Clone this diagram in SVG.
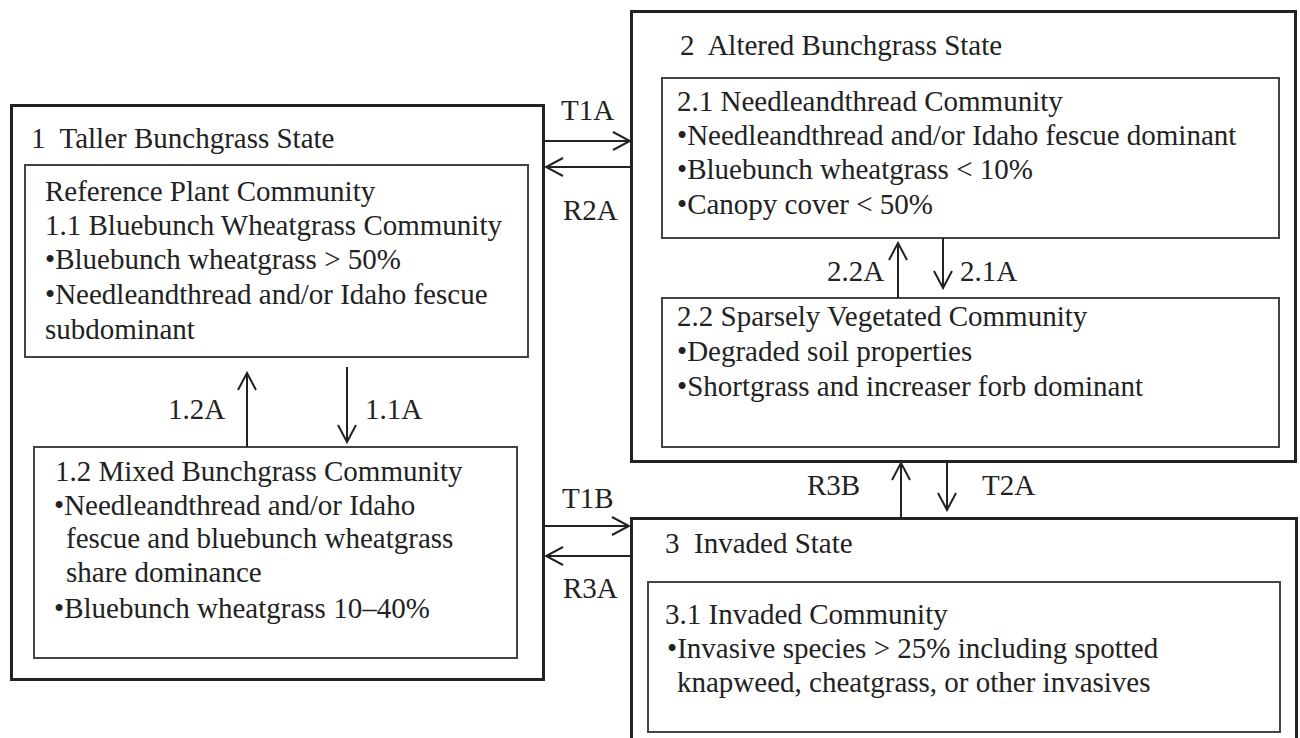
<svg xmlns="http://www.w3.org/2000/svg" width="1300" height="738" viewBox="0 0 1300 738">
<style>
text{font-family:"Liberation Serif","Times New Roman",serif;font-size:29px;fill:#222}
.state{fill:none;stroke:#222;stroke-width:3}
.comm{fill:none;stroke:#444;stroke-width:2}
.conn{stroke:#222;stroke-width:2;fill:none}
</style>
<defs>
<marker id="arr" viewBox="0 0 20 20" refX="18" refY="10" markerWidth="20" markerHeight="20" markerUnits="userSpaceOnUse" orient="auto">
<path d="M1,1 L18,10 L1,19" fill="none" stroke="#222" stroke-width="2"/>
</marker>
</defs>
<rect width="1300" height="738" fill="#fff"/>

<g id="state1">
<rect class="state" x="11.5" y="105.5" width="532" height="574"/>
<text x="31" y="148" xml:space="preserve">1  Taller Bunchgrass State</text>
</g>
<g id="comm1-1">
<rect class="comm" x="25" y="165" width="503" height="192"/>
<text x="45" y="201">Reference Plant Community</text>
<text x="45" y="235">1.1 Bluebunch Wheatgrass Community</text>
<text x="45" y="269">•Bluebunch wheatgrass &gt; 50%</text>
<text x="45" y="304">•Needleandthread and/or Idaho fescue</text>
<text x="45" y="339">subdominant</text>
</g>
<g id="comm1-2">
<rect class="comm" x="34" y="447" width="483" height="211"/>
<text x="55" y="481">1.2 Mixed Bunchgrass Community</text>
<text x="54" y="515">•Needleandthread and/or Idaho</text>
<text x="66" y="548">fescue and bluebunch wheatgrass</text>
<text x="66" y="582">share dominance</text>
<text x="54" y="618">•Bluebunch wheatgrass 10–40%</text>
</g>

<g id="state2">
<rect class="state" x="631.5" y="11.5" width="664" height="450"/>
<text x="680" y="55" xml:space="preserve">2  Altered Bunchgrass State</text>
</g>
<g id="comm2-1">
<rect class="comm" x="662" y="78" width="617" height="160"/>
<text x="677" y="111">2.1 Needleandthread Community</text>
<text x="677" y="145">•Needleandthread and/or Idaho fescue dominant</text>
<text x="677" y="179">•Bluebunch wheatgrass &lt; 10%</text>
<text x="677" y="214">•Canopy cover &lt; 50%</text>
</g>
<g id="comm2-2">
<rect class="comm" x="662" y="298" width="617" height="149"/>
<text x="677" y="326">2.2 Sparsely Vegetated Community</text>
<text x="677" y="361">•Degraded soil properties</text>
<text x="677" y="396">•Shortgrass and increaser forb dominant</text>
</g>

<g id="state3">
<rect class="state" x="631.5" y="518.5" width="665" height="240"/>
<text x="665" y="553" xml:space="preserve">3  Invaded State</text>
</g>
<g id="comm3-1">
<rect class="comm" x="648" y="582" width="632" height="150"/>
<text x="665" y="624">3.1 Invaded Community</text>
<text x="667" y="658">•Invasive species &gt; 25% including spotted</text>
<text x="677" y="692">knapweed, cheatgrass, or other invasives</text>
</g>

<g id="connectors">
<line class="conn" x1="543" y1="141" x2="630" y2="141" marker-end="url(#arr)"/>
<line class="conn" x1="631" y1="167" x2="546" y2="167" marker-end="url(#arr)"/>
<line class="conn" x1="543" y1="526" x2="629" y2="526" marker-end="url(#arr)"/>
<line class="conn" x1="631" y1="556" x2="546" y2="556" marker-end="url(#arr)"/>
<line class="conn" x1="247" y1="447" x2="247" y2="373" marker-end="url(#arr)"/>
<line class="conn" x1="347" y1="367" x2="347" y2="442" marker-end="url(#arr)"/>
<line class="conn" x1="898" y1="298" x2="898" y2="243" marker-end="url(#arr)"/>
<line class="conn" x1="943" y1="238" x2="943" y2="288" marker-end="url(#arr)"/>
<line class="conn" x1="901" y1="518" x2="901" y2="463" marker-end="url(#arr)"/>
<line class="conn" x1="947" y1="462" x2="947" y2="510" marker-end="url(#arr)"/>
<text x="561" y="120">T1A</text>
<text x="563" y="220">R2A</text>
<text x="562" y="508">T1B</text>
<text x="563" y="598">R3A</text>
<text x="168" y="419">1.2A</text>
<text x="365" y="419">1.1A</text>
<text x="827" y="281">2.2A</text>
<text x="960" y="281">2.1A</text>
<text x="807" y="495">R3B</text>
<text x="982" y="495">T2A</text>
</g>
</svg>
